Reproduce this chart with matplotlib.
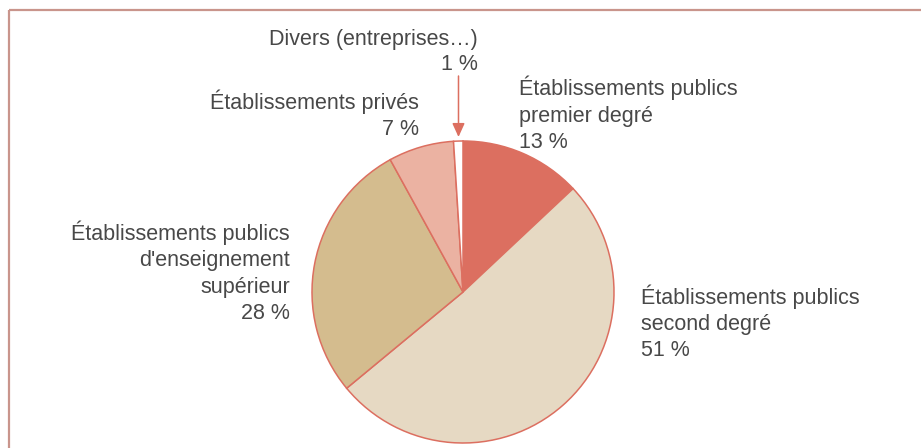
import matplotlib.pyplot as plt

# parts of the pie, clockwise from the top
categories = ["Établissements publics\npremier degré",
              "Établissements publics\nsecond degré",
              "Établissements publics\nd'enseignement\nsupérieur",
              "Établissements privés",
              "Divers (entreprises…)"]
shares = [13, 51, 28, 7, 1]
colors = ["#dc6f60", "#e6d9c3", "#d4bc8e", "#ebb2a2", "#ffffff"]

plt.rcParams['font.family'] = ['Liberation Sans', 'DejaVu Sans']
W, H = 921, 448
fig = plt.figure(figsize=(W / 100, H / 100), dpi=100)
ax = fig.add_axes([0, 0, 1, 1])

cx, cy, r = 463, H - 292, 151
ax.pie(shares, colors=colors, startangle=90, counterclock=False,
       center=(cx, cy), radius=r,
       wedgeprops=dict(edgecolor="#dc6f60", linewidth=1.1))
ax.set_xlim(0, W)
ax.set_ylim(0, H)
ax.set_aspect('equal')
ax.axis('off')

# frame: top and left lines only
edge = "#c9958c"
ax.plot([8.5, W], [H - 10, H - 10], color=edge, lw=1.6, solid_capstyle='butt')
ax.plot([8.5, 8.5], [0, H - 10], color=edge, lw=1.6, solid_capstyle='butt')

# x, baseline of first line, line step, alignment
spots = [(519, 95, 26.5, 'left'), (641, 304, 26.0, 'left'),
         (290, 240, 26.3, 'right'), (419, 109, 26.0, 'right'),
         (478, 44.5, 25.5, 'right')]
for cat, v, (x, y0, step, ha) in zip(categories, shares, spots):
    lines = cat.split("\n") + [f"{v} %"]
    for k, line in enumerate(lines):
        ax.text(x, H - (y0 + k * step), line, ha=ha, va='baseline',
                fontsize=15.5, color="#484848")

# arrow pointing at the smallest slice
ax.annotate("", xy=(458.5, H - 137), xytext=(458.5, H - 76),
            arrowprops=dict(arrowstyle='-|>,head_length=0.55,head_width=0.25',
                            color="#dc6f60", lw=1.1, mutation_scale=15,
                            shrinkA=0, shrinkB=0))

fig.savefig("out.png", dpi=100)
